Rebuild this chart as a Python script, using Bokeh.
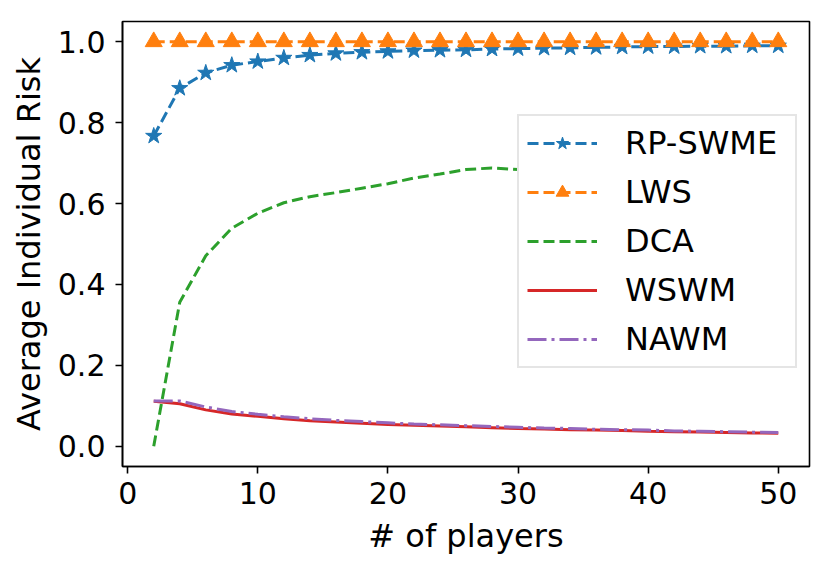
from bokeh.plotting import figure
from bokeh.embed import file_html
from bokeh.resources import INLINE
from bokeh.models import FixedTicker, PrintfTickFormatter, Range1d

players = [2, 4, 6, 8, 10, 12, 14, 16, 18, 20, 22, 24, 26, 28, 30,
           32, 34, 36, 38, 40, 42, 44, 46, 48, 50]
rp_swme = [0.767, 0.885, 0.923, 0.942, 0.951, 0.960, 0.967, 0.971, 0.974, 0.976,
           0.978, 0.979, 0.980, 0.982, 0.983, 0.984, 0.985, 0.986, 0.987, 0.988,
           0.988, 0.989, 0.989, 0.990, 0.990]
lws = [1.0] * 25
dca = [0.0, 0.356, 0.471, 0.539, 0.576, 0.602, 0.617, 0.627, 0.638, 0.649,
       0.663, 0.673, 0.684, 0.688, 0.684, 0.681, 0.679, 0.678, 0.677, 0.676,
       0.675, 0.674, 0.673, 0.672, 0.671]
wswm = [0.111, 0.105, 0.090, 0.080, 0.074, 0.068, 0.063, 0.060, 0.057, 0.054,
        0.052, 0.050, 0.048, 0.046, 0.044, 0.043, 0.041, 0.040, 0.039, 0.037,
        0.036, 0.035, 0.034, 0.033, 0.032]
nawm = [0.112, 0.112, 0.097, 0.086, 0.079, 0.073, 0.068, 0.064, 0.061, 0.058,
        0.055, 0.053, 0.051, 0.049, 0.047, 0.045, 0.044, 0.042, 0.041, 0.040,
        0.038, 0.037, 0.036, 0.035, 0.034]
x_ticks = [0, 10, 20, 30, 40, 50]
y_ticks = [0.0, 0.2, 0.4, 0.6, 0.8, 1.0]

FONT = "DejaVu Sans"

p = figure(frame_width=687, frame_height=445,
           min_border_left=122, min_border_top=21, min_border_right=13,
           min_border_bottom=94,
           x_range=Range1d(-0.4, 52.4), y_range=Range1d(-0.05, 1.05),
           output_backend="svg", toolbar_location=None,
           background_fill_color="white", border_fill_color="white")

p.xgrid.visible = False
p.ygrid.visible = False
p.outline_line_color = "black"
p.outline_line_width = 1.6

for ax in (p.xaxis[0], p.yaxis[0]):
    ax.axis_line_width = 1.6
    ax.axis_line_color = "black"
    ax.major_tick_line_width = 1.6
    ax.major_tick_in = 0
    ax.major_tick_out = 7
    ax.minor_tick_line_color = None
    ax.major_label_text_font = FONT
    ax.major_label_text_font_size = "30px"
    ax.major_label_text_color = "black"
    ax.axis_label_text_font = FONT
    ax.axis_label_text_font_size = "32px"
    ax.axis_label_text_font_style = "normal"
    ax.axis_label_text_color = "black"

p.xaxis.ticker = FixedTicker(ticks=x_ticks)
p.yaxis.ticker = FixedTicker(ticks=y_ticks)
p.yaxis.formatter = PrintfTickFormatter(format="%.1f")
p.xaxis.axis_label = "# of players"
p.yaxis.axis_label = "Average Individual Risk"
p.xaxis.major_label_standoff = 8
p.yaxis.major_label_standoff = 10
p.xaxis.axis_label_standoff = 10
p.yaxis.axis_label_standoff = 7

blue = "#1f77b4"
orange = "#ff7f0e"
green = "#2ca02c"
red = "#d62728"
purple = "#9467bd"

p.line(players, rp_swme, line_color=blue, line_width=3, line_dash="11 5",
       legend_label="RP-SWME")
p.scatter(players, rp_swme, marker="star", size=17, fill_color=blue,
          line_color=blue, legend_label="RP-SWME")
p.line(players, lws, line_color=orange, line_width=3, line_dash="11 5",
       legend_label="LWS")
p.scatter(players, lws, marker="triangle", size=17, fill_color=orange,
          line_color=orange, legend_label="LWS")
p.line(players, dca, line_color=green, line_width=3, line_dash="11 5",
       legend_label="DCA")
p.line(players, wswm, line_color=red, line_width=3, legend_label="WSWM")
p.line(players, nawm, line_color=purple, line_width=3, line_dash="19 5 3 5",
       legend_label="NAWM")

lg = p.legend[0]
lg.location = (395, 98)
lg.margin = 0
lg.padding = 8
lg.spacing = 11
lg.label_height = 32
lg.glyph_height = 32
lg.glyph_width = 70
lg.label_width = 162
lg.label_standoff = 28
lg.label_text_font = FONT
lg.label_text_font_size = "32px"
lg.label_text_color = "black"
lg.border_line_color = "#cccccc"
lg.border_line_width = 2
lg.background_fill_color = "white"
lg.background_fill_alpha = 1.0

open("out.html", "w").write(file_html(p, INLINE))
